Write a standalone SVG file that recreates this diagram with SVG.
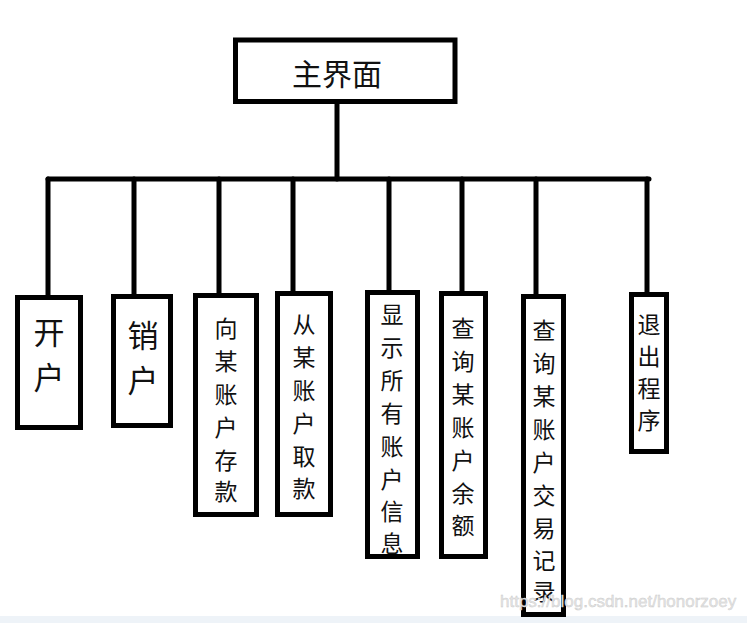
<svg xmlns="http://www.w3.org/2000/svg" width="747" height="623" viewBox="0 0 747 623">
<style>
.box{fill:#fff;stroke:#000;stroke-width:5}
.ln{stroke:#000;stroke-width:5;fill:none;stroke-linecap:round}
.t{font-family:"Noto Sans CJK SC","Noto Sans",sans-serif;fill:#111;text-anchor:middle;dominant-baseline:central}
.v{font-size:23px}
.b{font-size:31px}
</style>
<rect width="747" height="623" fill="#fff"/>
<rect x="0" y="616" width="747" height="7" fill="#eef3f8"/>
<g id="connectors">
<line class="ln" x1="337" y1="104" x2="337" y2="179"/>
<line class="ln" x1="48" y1="179" x2="649" y2="179"/>
<line class="ln" x1="48" y1="179" x2="48" y2="295"/>
<line class="ln" x1="134" y1="179" x2="134" y2="294"/>
<line class="ln" x1="219" y1="179" x2="219" y2="293"/>
<line class="ln" x1="293" y1="179" x2="293" y2="291"/>
<line class="ln" x1="389" y1="179" x2="389" y2="290"/>
<line class="ln" x1="462" y1="179" x2="462" y2="291"/>
<line class="ln" x1="536" y1="179" x2="536" y2="294"/>
<line class="ln" x1="647" y1="179" x2="647" y2="292"/>
</g>
<g id="main">
<rect class="box" x="235.5" y="40" width="219.5" height="61.5" stroke-width="6"/>
<text class="t" x="337" y="72" font-size="30">主界面</text>
</g>
<g id="n1">
<rect class="box" x="17.5" y="297.5" width="63" height="130"/>
<text class="t b" x="49" y="330">开</text>
<text class="t b" x="49" y="375">户</text>
</g>
<g id="n2">
<rect class="box" x="113.5" y="296.5" width="57" height="129"/>
<text class="t b" x="143" y="333">销</text>
<text class="t b" x="143" y="378">户</text>
</g>
<g id="n3">
<rect class="box" x="195.5" y="295.5" width="61" height="219"/>
<text class="t v" x="226" y="327">向</text>
<text class="t v" x="226" y="360">某</text>
<text class="t v" x="226" y="393">账</text>
<text class="t v" x="226" y="426">户</text>
<text class="t v" x="226" y="459">存</text>
<text class="t v" x="226" y="490">款</text>
</g>
<g id="n4">
<rect class="box" x="277.5" y="293.5" width="53" height="221"/>
<text class="t v" x="304" y="323">从</text>
<text class="t v" x="304" y="356">某</text>
<text class="t v" x="304" y="389">账</text>
<text class="t v" x="304" y="422">户</text>
<text class="t v" x="304" y="455">取</text>
<text class="t v" x="304" y="487">款</text>
</g>
<g id="n5">
<rect class="box" x="367.5" y="292.5" width="50" height="264"/>
<text class="t v" x="392" y="313">显</text>
<text class="t v" x="392" y="346">示</text>
<text class="t v" x="392" y="379">所</text>
<text class="t v" x="392" y="412">有</text>
<text class="t v" x="392" y="445">账</text>
<text class="t v" x="392" y="478">户</text>
<text class="t v" x="392" y="510">信</text>
<text class="t v" x="392" y="542">息</text>
</g>
<g id="n6">
<rect class="box" x="441.5" y="293.5" width="44" height="263"/>
<text class="t v" x="463" y="327">查</text>
<text class="t v" x="463" y="360">询</text>
<text class="t v" x="463" y="393">某</text>
<text class="t v" x="463" y="426">账</text>
<text class="t v" x="463" y="459">户</text>
<text class="t v" x="463" y="492">余</text>
<text class="t v" x="463" y="524">额</text>
</g>
<g id="n7">
<rect class="box" x="523.5" y="296.5" width="40" height="318" />
<text class="t v" x="544" y="329">查</text>
<text class="t v" x="544" y="362">询</text>
<text class="t v" x="544" y="395">某</text>
<text class="t v" x="544" y="428">账</text>
<text class="t v" x="544" y="461">户</text>
<text class="t v" x="544" y="494">交</text>
<text class="t v" x="544" y="527">易</text>
<text class="t v" x="544" y="559">记</text>
<text class="t v" x="544" y="590">录</text>
</g>
<g id="n8">
<rect class="box" x="631.5" y="294.5" width="35" height="157"/>
<text class="t v" x="649" y="323">退</text>
<text class="t v" x="649" y="355">出</text>
<text class="t v" x="649" y="387">程</text>
<text class="t v" x="649" y="419">序</text>
</g>
<text x="500" y="607" font-family="Liberation Sans, Arial, sans-serif" font-size="17" fill="#e6e6e6" stroke="#c8c8c8" stroke-width="0.4">https://blog.csdn.net/honorzoey</text>
</svg>
